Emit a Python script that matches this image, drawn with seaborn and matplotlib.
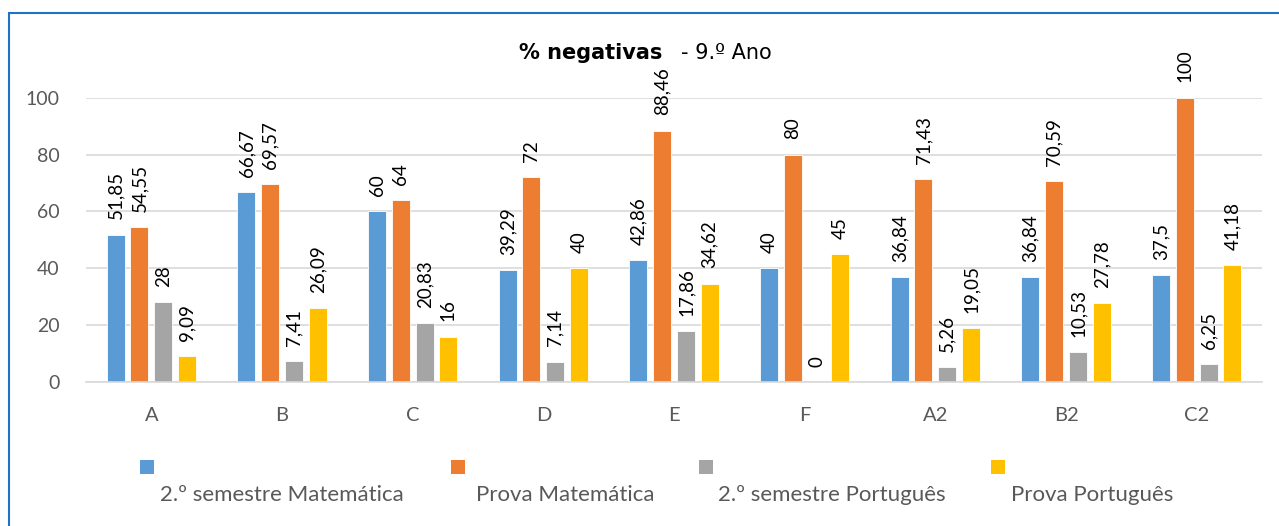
import numpy as np
import pandas as pd
import matplotlib
matplotlib.use("Agg")
import matplotlib.pyplot as plt
from matplotlib.patches import Rectangle
import seaborn as sns

# ---- data ----
turmas = ["A", "B", "C", "D", "E", "F", "A2", "B2", "C2"]
series = ["2.º semestre Matemática", "Prova Matemática",
          "2.º semestre Português", "Prova Português"]
sem_mat = [51.85, 66.67, 60, 39.29, 42.86, 40, 36.84, 36.84, 37.5]
prova_mat = [54.55, 69.57, 64, 72, 88.46, 80, 71.43, 70.59, 100]
sem_port = [28, 7.41, 20.83, 7.14, 17.86, 0, 5.26, 10.53, 6.25]
prova_port = [9.09, 26.09, 16, 40, 34.62, 45, 19.05, 27.78, 41.18]
yticks = [0, 20, 40, 60, 80, 100]
title_bold = "% negativas"
title_rest = "- 9.º Ano"

colors = ["#5B9BD5", "#ED7D31", "#A5A5A5", "#FFC000"]

values = [sem_mat, prova_mat, sem_port, prova_port]
df = pd.DataFrame({
    "turma": turmas * len(series),
    "serie": [s for s in series for _ in turmas],
    "valor": [v for vals in values for v in vals],
})

sns.set_theme(style="white")
plt.rcParams["font.family"] = ["Lato", "DejaVu Sans"]

W, H = 1279, 526
fig = plt.figure(figsize=(W / 100, H / 100), dpi=100)
ax = fig.add_axes([86 / W, 1 - 382 / H, (1262 - 86) / W, (382 - 97.7) / H])

sns.barplot(data=df, x="turma", y="valor", hue="serie", order=turmas,
            hue_order=series, palette=colors, width=0.725, gap=0.24,
            edgecolor="white", linewidth=0.6, legend=False, ax=ax,
            saturation=1)


def fmt(v):
    s = ("%.2f" % v).rstrip("0").rstrip(".")
    return s.replace(".", ",")


for cont, vals in zip(ax.containers, values):
    ax.bar_label(cont, labels=[fmt(v) for v in vals], rotation=90,
                 padding=11, fontsize=13.5, color="black", clip_on=False)

ax.set_ylim(0, 100)
ax.set_yticks(yticks)
ax.set_xlim(-0.5, len(turmas) - 0.5)
ax.yaxis.grid(True, color="#D9D9D9", linewidth=1.2)
ax.set_axisbelow(True)
for s in ["top", "right", "left"]:
    ax.spines[s].set_visible(False)
ax.spines["bottom"].set_color("#D9D9D9")
ax.spines["bottom"].set_linewidth(1.2)
ax.tick_params(axis="both", length=0, colors="#595959", labelsize=14.5)
ax.tick_params(axis="y", pad=19, labelsize=14)
ax.tick_params(axis="x", pad=18)
ax.set_xlabel("")
ax.set_ylabel("")

# title
fig.text(662 / W, 1 - 59 / H, title_bold, ha="right", va="baseline",
         fontsize=15, fontweight="bold", family="DejaVu Sans", color="black")
fig.text(681 / W, 1 - 59 / H, title_rest, ha="left", va="baseline",
         fontsize=15, family="DejaVu Sans", color="black")

# legend (square above, label below)
sq_x = [140, 451, 699, 991]
lab_x = [160, 476, 718, 1011]
for c, sx, lx, name in zip(colors, sq_x, lab_x, series):
    fig.patches.append(Rectangle((sx / W, 1 - 474 / H), 14 / W, 14 / H,
                                 transform=fig.transFigure, facecolor=c,
                                 edgecolor="none"))
    fig.text(lx / W, 1 - 495 / H, name, ha="left", va="center",
             fontsize=16, color="#595959")

# figure border (left & top)
fig.patches.append(Rectangle((9 / W, -0.1), 1.2, 1 - 13 / H + 0.1,
                             transform=fig.transFigure, facecolor="none",
                             edgecolor="#1F73C4", linewidth=1.5))

fig.savefig("out.png", dpi=100)
